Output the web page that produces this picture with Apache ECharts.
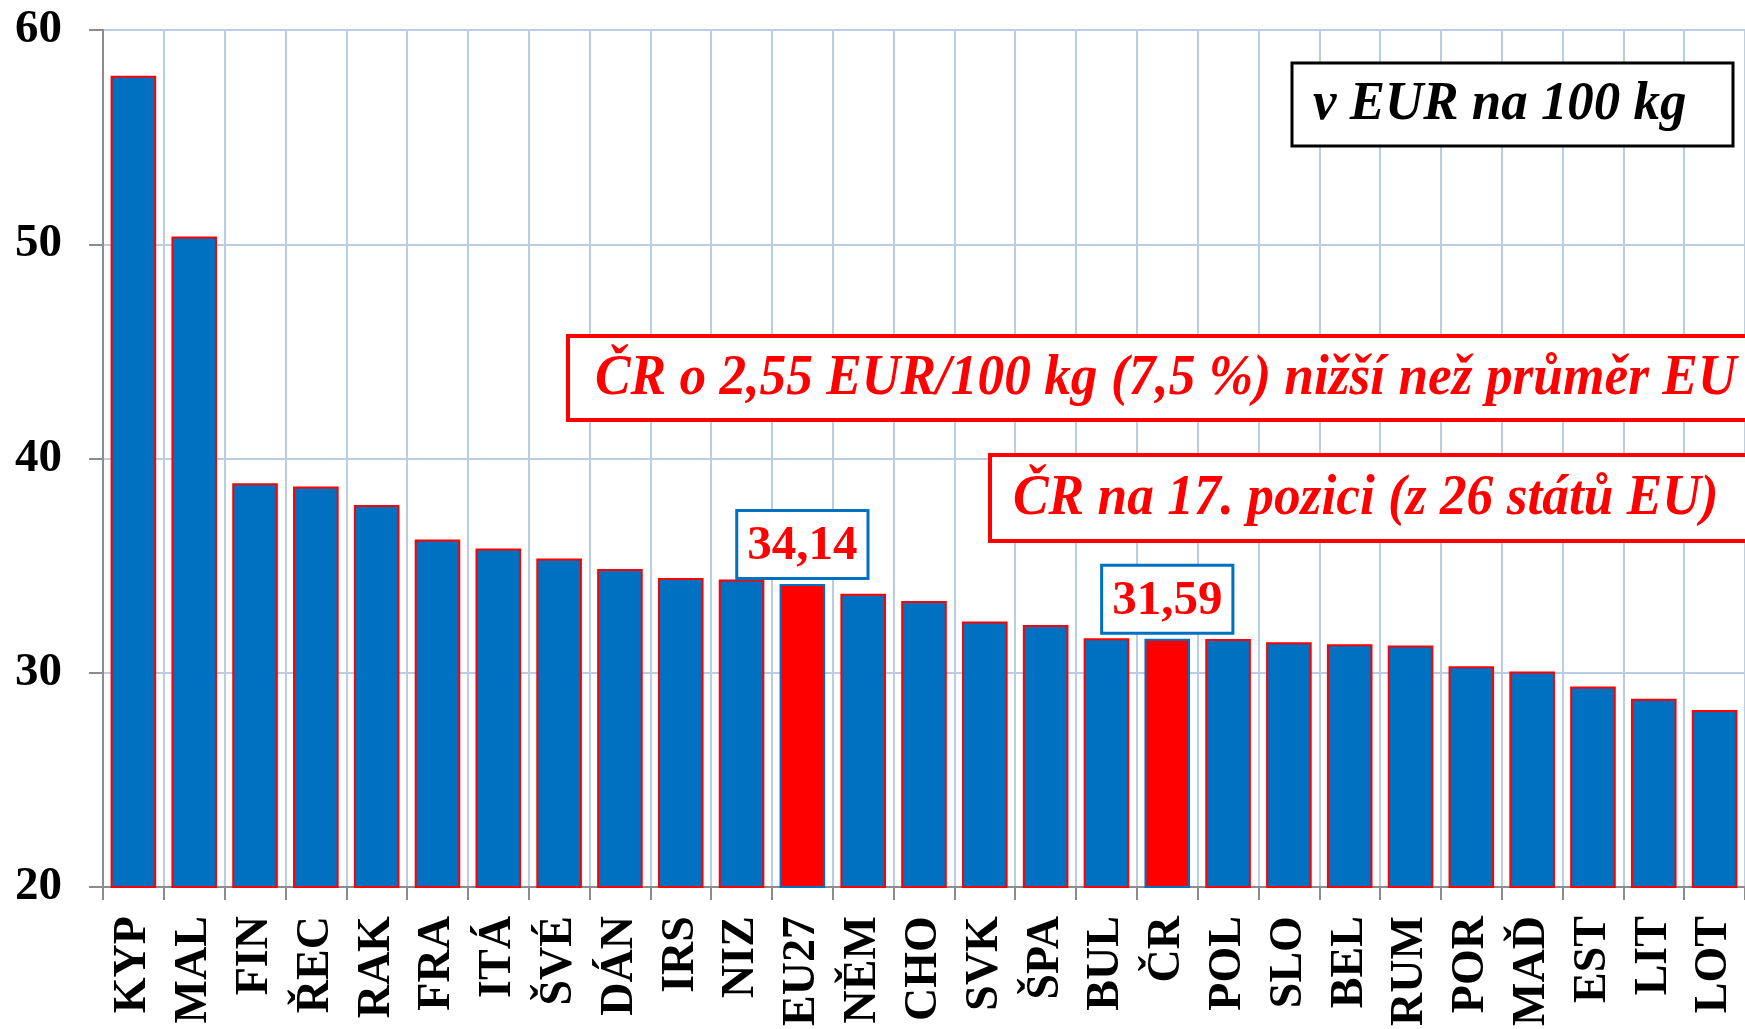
<!DOCTYPE html>
<html>
<head>
<meta charset="utf-8">
<script src="https://cdn.jsdelivr.net/npm/echarts@6/dist/echarts.min.js"></script>
<style>
    html, body { margin: 0; padding: 0; background: #fff; }
    #chart { width: 1745px; height: 1029px; }
</style>
</head>
<body>
<div id="chart"></div>
<script>
// státy seřazené podle ceny
var countries = ['KYP', 'MAL', 'FIN', 'ŘEC', 'RAK', 'FRA', 'ITÁ', 'ŠVÉ', 'DÁN', 'IRS', 'NIZ', 'EU27', 'NĚM',
    'CHO', 'SVK', 'ŠPA', 'BUL', 'ČR', 'POL', 'SLO', 'BEL', 'RUM', 'POR', 'MAĎ', 'EST', 'LIT', 'LOT'];
// cena v EUR na 100 kg
var prices = [57.86, 50.36, 38.85, 38.69, 37.83, 36.22, 35.80, 35.33, 34.85, 34.42, 34.36, 34.14, 33.69,
    33.35, 32.40, 32.23, 31.61, 31.59, 31.58, 31.43, 31.33, 31.28, 30.31, 30.06, 29.36, 28.79, 28.26];
// zvýrazněné sloupce (s popiskem)
var highlighted = ['EU27', 'ČR'];
var yTicks = [20, 30, 40, 50, 60];

var serif = "'Liberation Serif', 'Times New Roman', serif";
var blue = '#0070C0';
var red = '#FF0000';
var gridColor = '#B9CDE5';
var axisColor = '#8C8C8C';

var barData = countries.map(function (name, i) {
    var hi = highlighted.indexOf(name) >= 0;
    var item = {
        value: prices[i],
        itemStyle: {
            color: hi ? red : blue,
            borderColor: hi ? blue : red,
            borderWidth: 2
        }
    };
    if (hi) {
        item.label = {
            show: true,
            position: 'top',
            distance: 7,
            formatter: function (p) { return p.value.toFixed(2).replace('.', ','); },
            fontFamily: serif,
            fontWeight: 'bold',
            fontSize: 49,
            color: red,
            backgroundColor: '#fff',
            borderColor: blue,
            borderWidth: 3,
            padding: [10, 9, 6, 9]
        };
    }
    return item;
});

var chart = echarts.init(document.getElementById('chart'));

var option = {
    animation: false,
    grid: {
        left: 103,
        right: -10,
        top: 30,
        bottom: 140
    },
    xAxis: {
        type: 'category',
        data: countries,
        axisLine: { lineStyle: { color: axisColor, width: 2 } },
        axisTick: { show: true, length: 13, lineStyle: { color: axisColor, width: 2 } },
        axisLabel: {
            interval: 0,
            rotate: 90,
            margin: 29,
            fontFamily: serif,
            fontWeight: 'bold',
            fontSize: 46,
            color: '#000'
        },
        splitLine: { show: true, lineStyle: { color: gridColor, width: 2 } }
    },
    yAxis: {
        type: 'value',
        min: yTicks[0],
        max: yTicks[yTicks.length - 1],
        interval: 10,
        axisLine: { show: true, lineStyle: { color: axisColor, width: 2 } },
        axisTick: { show: true, length: 14, lineStyle: { color: axisColor, width: 2 } },
        axisLabel: {
            margin: 41,
            fontFamily: serif,
            fontWeight: 'bold',
            fontSize: 47,
            color: '#000'
        },
        splitLine: { show: true, lineStyle: { color: gridColor, width: 2 } }
    },
    series: [{
        type: 'bar',
        data: barData,
        barCategoryGap: '25%'
    }],
    graphic: [
        // jednotka
        {
            type: 'rect', z: 100,
            shape: { x: 1292, y: 63, width: 441, height: 83 },
            style: { fill: '#fff', stroke: '#000', lineWidth: 3 }
        },
        {
            type: 'text', z: 101, x: 1313, y: 105, scaleX: 0.98,
            style: {
                text: 'v EUR na 100 kg', fill: '#000',
                fontFamily: serif, fontWeight: 'bold', fontStyle: 'italic', fontSize: 54,
                verticalAlign: 'middle'
            }
        },
        // rozdíl proti EU
        {
            type: 'rect', z: 100,
            shape: { x: 568, y: 336, width: 1200, height: 84 },
            style: { fill: '#fff', stroke: red, lineWidth: 4 }
        },
        {
            type: 'text', z: 101, x: 595, y: 379, scaleX: 0.92,
            style: {
                text: 'ČR o 2,55 EUR/100 kg (7,5 %) nižší než průměr EU', fill: red,
                fontFamily: serif, fontWeight: 'bold', fontStyle: 'italic', fontSize: 58,
                verticalAlign: 'middle'
            }
        },
        // pořadí
        {
            type: 'rect', z: 100,
            shape: { x: 990, y: 455, width: 780, height: 86 },
            style: { fill: '#fff', stroke: red, lineWidth: 4 }
        },
        {
            type: 'text', z: 101, x: 1013, y: 499, scaleX: 0.92,
            style: {
                text: 'ČR na 17. pozici (z 26 států EU)', fill: red,
                fontFamily: serif, fontWeight: 'bold', fontStyle: 'italic', fontSize: 58,
                verticalAlign: 'middle'
            }
        }
    ]
};

chart.setOption(option);
</script>
</body>
</html>
